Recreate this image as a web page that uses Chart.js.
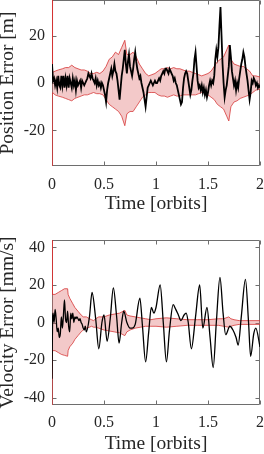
<!DOCTYPE html>
<html>
<head>
<meta charset="utf-8">
<script src="https://cdn.jsdelivr.net/npm/chart.js@4.4.0/dist/chart.umd.min.js"></script>
<style>
  html, body { margin: 0; padding: 0; background: #fff; }
  #wrap { position: relative; width: 264px; height: 454px; overflow: hidden; }
  canvas { position: absolute; left: 0; }
  #posChart { top: 0; }
  #velChart { top: 227px; }
</style>
</head>
<body>
<div id="wrap">
  <canvas id="posChart" width="264" height="227"></canvas>
  <canvas id="velChart" width="264" height="227"></canvas>
</div>
<script>
// --- data ---

const timeTicks = [0, 0.5, 1, 1.5, 2];
const posTicks = [-20, 0, 20];
const velTicks = [-40, -20, 0, 20, 40];

// position error [m]
const posTime = [
  0, 0.01, 0.02, 0.03, 0.04, 0.05, 0.06, 0.07, 0.08, 0.09,
  0.10, 0.11, 0.12, 0.13, 0.14, 0.15, 0.16, 0.17, 0.18, 0.19,
  0.20, 0.21, 0.22, 0.23, 0.24, 0.25, 0.26, 0.27, 0.28, 0.29,
  0.30, 0.31, 0.32, 0.33, 0.34, 0.35, 0.36, 0.37, 0.38, 0.39,
  0.40, 0.41, 0.42, 0.43, 0.44, 0.45, 0.46, 0.47, 0.48, 0.49,
  0.50, 0.51, 0.52, 0.53, 0.54, 0.55, 0.56, 0.57, 0.58, 0.59,
  0.60, 0.61, 0.62, 0.63, 0.64, 0.65, 0.66, 0.67, 0.68, 0.69,
  0.70, 0.71, 0.72, 0.73, 0.74, 0.75, 0.76, 0.77, 0.78, 0.79,
  0.80, 0.81, 0.82, 0.83, 0.84, 0.85, 0.86, 0.87, 0.88, 0.89,
  0.90, 0.91, 0.92, 0.93, 0.94, 0.95, 0.96, 0.97, 0.98, 0.99,
  1.00, 1.01, 1.02, 1.03, 1.04, 1.05, 1.06, 1.07, 1.08, 1.09,
  1.10, 1.11, 1.12, 1.13, 1.14, 1.15, 1.16, 1.17, 1.18, 1.19,
  1.20, 1.21, 1.22, 1.23, 1.24, 1.25, 1.26, 1.27, 1.28, 1.29,
  1.30, 1.31, 1.32, 1.33, 1.34, 1.35, 1.36, 1.37, 1.38, 1.39,
  1.40, 1.41, 1.42, 1.43, 1.44, 1.45, 1.46, 1.47, 1.48, 1.49,
  1.50, 1.51, 1.52, 1.53, 1.54, 1.55, 1.56, 1.57, 1.58, 1.59,
  1.60, 1.61, 1.62, 1.63, 1.64, 1.65, 1.66, 1.67, 1.68, 1.69,
  1.70, 1.71, 1.72, 1.73, 1.74, 1.75, 1.76, 1.77, 1.78, 1.79,
  1.80, 1.81, 1.82, 1.83, 1.84, 1.85, 1.86, 1.87, 1.88, 1.89,
  1.90, 1.91, 1.92, 1.93, 1.94, 1.95, 1.96, 1.97, 1.98, 1.99,
  2.00
];
const posError = [
  8, 1, 2, -1, 1, -2, 3, -1, -2, 3,
  -1, 3, -2, 2, -1, 3, -2, 2, 0, -2,
  2, -1, 1, -3, 1, -1, 0, 1, -2, 1,
  0, -1, 0, 1, 2, 4, 3, 2, 4, 2,
  1, 0, 2, -1, 1, -1, 0, -2, 0, -1,
  -3, -5, -8, -3, 0, 2, 4, 6, 3, 5,
  8, 5, 4, 1, -3, -7, -2, 3, 6, 10,
  14, 8, 4, 9, 12, 7, 5, 3, 6, 10,
  13, 9, 6, 4, 2, 3, 0, -2, -4, -7,
  -10, -6, -2, -1, 0, 1, 0, -1, 0, 1,
  0, 0, 1, 2, 1, 3, 4, 5, 4, 6,
  6, 5, 4, 6, 5, 4, 3, 1, 2, 0,
  -1, -3, -5, -7, -9, -8, -2, 2, 4, 5,
  4, 1, -2, -5, -3, 1, 4, 10, 13, 7,
  1, -2, -1, -3, -1, -4, -2, -5, -3, -6,
  -4, -1, 1, -1, 1, 0, 3, 10, 14, 11,
  15, 24, 32, 20, 8, 0, -6, -3, -1, 3,
  7, 16, 11, 5, 2, -1, 1, -3, 0, -2,
  2, 5, 8, 10, 13, 11, 7, 4, 1, -3,
  -7, -4, 1, 0, 2, 1, -1, 0, -2, -1,
  -2
];

const posBoundTime = [
  0, 0.005, 0.03, 0.06, 0.1, 0.13, 0.16, 0.19, 0.22, 0.25, 0.28, 0.31,
  0.34, 0.37, 0.4, 0.43, 0.46, 0.49, 0.52, 0.55, 0.58, 0.61, 0.64, 0.67,
  0.7, 0.72, 0.75, 0.78, 0.81, 0.84, 0.87, 0.9, 0.93, 0.96, 0.99, 1.02,
  1.05, 1.08, 1.11, 1.14, 1.17, 1.2, 1.23, 1.26, 1.29, 1.32, 1.35, 1.38,
  1.41, 1.44, 1.47, 1.5, 1.53, 1.56, 1.59, 1.62, 1.65, 1.68, 1.7, 1.72,
  1.75, 1.78, 1.81, 1.84, 1.87, 1.9, 1.93, 1.96, 2.0
];
const posUpper = [
  40, 4.5, 5, 5.5, 6, 6.5, 6.5, 7.5, 6.5, 6, 5.5, 5.5,
  5, 4, 4, 4.5, 4, 5, 7, 10, 11, 13, 12, 15,
  18, 12, 12, 13, 11, 8, 6, 4, 3, 3.5, 4, 5,
  6, 6, 6.5, 6, 6.5, 6, 6, 5.5, 5, 5, 4.5, 4,
  3.5, 3, 3.5, 4, 5, 7, 9, 10, 11, 14, 16, 10,
  8, 7.5, 7, 7, 6, 5, 3, 3, 2.5
];
const posLower = [
  -40, -4, -5, -5.5, -6, -6.5, -7, -7.5, -6.5, -6, -5.5, -5,
  -5, -4.5, -4, -4.5, -4.5, -5, -7, -9, -10, -11, -12, -14,
  -18, -13, -12, -12, -10, -8, -6, -5, -4, -4, -4, -5,
  -5.5, -5.5, -6, -5.5, -5, -5.5, -5.5, -5, -5, -5, -5, -5,
  -4.5, -4, -4, -5, -6, -7, -9, -10, -11, -14, -16, -10,
  -8, -7.5, -6.5, -6, -5.5, -5, -4, -3, -2.5
];

// velocity error [mm/s]
const velTime = [
  0, 0.003, 0.006, 0.01, 0.02, 0.03, 0.04, 0.05, 0.06, 0.07, 0.08, 0.09,
  0.10, 0.11, 0.12, 0.13, 0.14, 0.15, 0.16, 0.17, 0.18, 0.19, 0.20, 0.21,
  0.22, 0.23, 0.24, 0.25, 0.26, 0.27, 0.28, 0.29, 0.30, 0.31, 0.32, 0.33,
  0.36, 0.385, 0.42, 0.45, 0.48, 0.50, 0.53, 0.56, 0.59, 0.62, 0.645, 0.67,
  0.69, 0.72, 0.75, 0.77, 0.80, 0.845, 0.87, 0.90, 0.93, 0.955, 0.98, 1.00,
  1.04, 1.07, 1.10, 1.13, 1.165, 1.19, 1.215, 1.24, 1.27, 1.29, 1.31, 1.34,
  1.38, 1.42, 1.45, 1.49, 1.52, 1.55, 1.58, 1.615, 1.645, 1.67, 1.71, 1.74,
  1.77, 1.79, 1.82, 1.86, 1.89, 1.91, 1.94, 1.96, 2.00
];
const velError = [
  -30, -10, 3, 5, 0, 7, 2, -5, -3, -8, -6, 3,
  -3, 4, 12, 2, 0, 6, -2, -5, 5, 2, 5, 0,
  3, 2, 3, 2, 1, 2, 0, -1, -3, -4, -2, -5,
  3, 16, 2, -14, 0, 4, -10, 2, 18.5, 4, -11, 0,
  6, 0, -3, -3, -1, 13, -2, -21, -5, 8, 5, 8,
  20, 0, -21, -4, 9.5, 7, 4, 1, 4, 5, 0, -14,
  3, 20, -3, 8, -8, -24, 0, 24, 5, -6.5, -2, -4,
  -8, -12, 3, 23, 0, -18, -6, -3, -13
];

const velBoundTime = [
  0, 0.003, 0.03, 0.06, 0.09, 0.12, 0.15, 0.155, 0.17, 0.2, 0.22, 0.25,
  0.28, 0.3, 0.33, 0.36, 0.38, 0.4, 0.42, 0.45, 0.5, 0.55, 0.6, 0.65,
  0.7, 0.72, 0.75, 0.8, 0.85, 0.9, 0.95, 1.0, 1.1, 1.2, 1.3, 1.4,
  1.5, 1.6, 1.65, 1.7, 1.72, 1.75, 1.8, 1.9, 2.0
];
const velUpper = [
  44, 15, 15, 16, 17, 18, 18, 15, 13, 10, 8, 6,
  4, 3, 3, 2, 1.5, 1, 2, 3, 3, 4, 4.5, 5,
  6.5, 4, 3.5, 3, 2.5, 2, 1.5, 2, 2.5, 2, 1.5, 1.5,
  1.5, 2, 2, 3, 2, 1.5, 1, 1, 1
];
const velLower = [
  -44, -15, -15, -16, -17, -17.5, -18, -15, -13, -11, -9, -7,
  -5, -4, -3, -2.5, -2, -2.5, -2.5, -3, -4, -4.5, -5, -5.5,
  -7, -5, -4, -3, -2.5, -2, -2, -2, -2.5, -2, -1.5, -1.5,
  -1.5, -1.5, -2, -2.5, -2, -1.5, -1, -1, -1
];

// --- styles ---
const textColor = '#262626';
const axisColor = '#6e6e6e';
const lineBlack = '#000000';
const boundRed = 'rgb(214, 50, 50)';
const boundFill = 'rgba(220, 100, 100, 0.35)';
const serif = "'Liberation Serif', 'Times New Roman', serif";

Chart.defaults.font.family = serif;

const toPoints = (t, v) => t.map((x, i) => ({ x: x, y: v[i] }));

// box around the plot with inward tick marks (MATLAB look)
const boxPlugin = {
  id: 'boxAxes',
  beforeDatasetsDraw(chart) {
    const { ctx, chartArea: a, scales } = chart;
    const L = Math.round(a.left) + 0.5;
    const R = Math.round(a.right) - 0.5;
    const T = Math.round(a.top) + 0.5;
    const B = Math.round(a.bottom) - 0.5;
    const tl = 4;
    ctx.save();
    ctx.strokeStyle = axisColor;
    ctx.lineWidth = 1;
    ctx.beginPath();
    ctx.rect(L, T, R - L, B - T);
    scales.x.ticks.forEach(t => {
      const px = Math.round(scales.x.getPixelForValue(t.value)) + 0.5;
      ctx.moveTo(px, B); ctx.lineTo(px, B - tl);
      ctx.moveTo(px, T); ctx.lineTo(px, T + tl);
    });
    scales.y.ticks.forEach(t => {
      const py = Math.round(scales.y.getPixelForValue(t.value)) + 0.5;
      ctx.moveTo(L, py); ctx.lineTo(L + tl, py);
      ctx.moveTo(R, py); ctx.lineTo(R - tl, py);
    });
    ctx.stroke();
    ctx.restore();
  }
};

function buildChart(canvasId, cfg) {
  const ctx = document.getElementById(canvasId).getContext('2d');
  return new Chart(ctx, {
    type: 'line',
    data: {
      datasets: [
        {
          data: toPoints(cfg.errTime, cfg.errValues),
          borderColor: lineBlack,
          borderWidth: cfg.errWidth,
          pointRadius: 0,
          tension: 0,
          cubicInterpolationMode: cfg.smooth ? 'monotone' : 'default',
          fill: false
        },
        {
          data: toPoints(cfg.boundTime, cfg.upper),
          borderColor: boundRed,
          borderWidth: 0.8,
          pointRadius: 0,
          tension: 0,
          backgroundColor: boundFill,
          fill: '+1'
        },
        {
          data: toPoints(cfg.boundTime, cfg.lower),
          borderColor: boundRed,
          borderWidth: 0.8,
          pointRadius: 0,
          tension: 0,
          fill: false
        }
      ]
    },
    options: {
      responsive: false,
      animation: false,
      events: [],
      layout: {
        autoPadding: false,
        padding: { left: 0, right: 4, top: cfg.padTop, bottom: 0 }
      },
      plugins: {
        legend: { display: false },
        tooltip: { enabled: false }
      },
      scales: {
        x: {
          type: 'linear',
          min: 0,
          max: 2,
          afterBuildTicks: s => { s.ticks = timeTicks.map(v => ({ value: v })); },
          afterFit: s => { s.height = cfg.xHeight; s.paddingLeft = 0; s.paddingRight = 0; },
          grid: { display: false, drawTicks: false },
          border: { display: false },
          ticks: {
            color: textColor,
            font: { size: 16 },
            padding: cfg.xTickPad,
            maxRotation: 0,
            autoSkip: false,
            callback: v => String(v)
          },
          title: {
            display: true,
            text: 'Time [orbits]',
            color: textColor,
            font: { size: 19.5, lineHeight: 1 },
            padding: { top: 0, bottom: cfg.xTitlePad }
          }
        },
        y: {
          type: 'linear',
          min: cfg.yMin,
          max: cfg.yMax,
          afterBuildTicks: s => { s.ticks = cfg.yTicks.map(v => ({ value: v })); },
          afterFit: s => { s.width = 52; s.paddingTop = 0; s.paddingBottom = 0; },
          grid: { display: false, drawTicks: false },
          border: { display: false },
          ticks: {
            color: textColor,
            font: { size: 16 },
            padding: 7,
            autoSkip: false,
            callback: v => String(v)
          },
          title: {
            display: true,
            text: cfg.yTitle,
            color: textColor,
            font: { size: 19.5, lineHeight: 0.8 },
            padding: { top: 0, bottom: 0 }
          }
        }
      }
    },
    plugins: [boxPlugin]
  });
}

document.addEventListener('DOMContentLoaded', () => {
  buildChart('posChart', {
    errTime: posTime, errValues: posError, errWidth: 1.8, smooth: false,
    boundTime: posBoundTime, upper: posUpper, lower: posLower,
    yMin: -35, yMax: 35, yTicks: posTicks, yTitle: 'Position Error [m]',
    padTop: 0, xHeight: 61, xTickPad: 9.5, xTitlePad: 13.5
  });
  buildChart('velChart', {
    errTime: velTime, errValues: velError, errWidth: 1.3, smooth: true,
    boundTime: velBoundTime, upper: velUpper, lower: velLower,
    yMin: -44, yMax: 44, yTicks: velTicks, yTitle: 'Velocity Error [mm/s]',
    padTop: 13, xHeight: 49, xTickPad: 8.5, xTitlePad: 0.5
  });
});
</script>
</body>
</html>
